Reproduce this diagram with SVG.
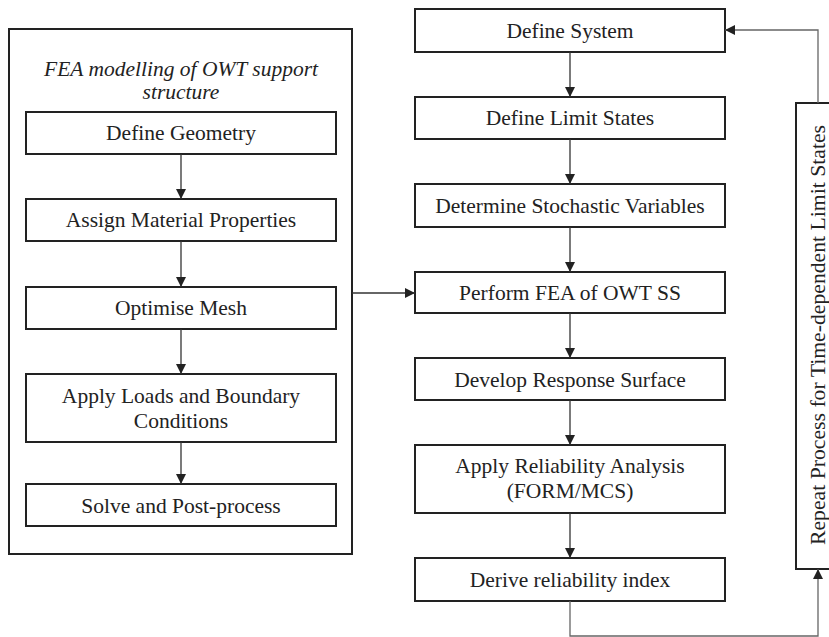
<svg xmlns="http://www.w3.org/2000/svg" width="829" height="637" viewBox="0 0 829 637">
<style>
.box{fill:#fff;stroke:#222;stroke-width:2}
.t{font-family:"Liberation Serif","Times New Roman",serif;font-size:21.5px;fill:#222;text-anchor:middle}
.it{font-style:italic}
.c{fill:none;stroke:#333;stroke-width:1.3}
.fb{fill:none;stroke:#666;stroke-width:1.3}
</style>
<defs>
<marker id="ah" viewBox="0 0 10 10" refX="10" refY="5" markerWidth="10" markerHeight="10" markerUnits="userSpaceOnUse" orient="auto">
<path d="M0,0 L10,5 L0,10 Z" fill="#222"/>
</marker>
</defs>
<rect width="829" height="637" fill="#fff"/>
<g id="fea-group">
<rect class="box" x="9" y="29" width="343" height="525"/>
<text class="t it" x="181" y="76">FEA modelling of OWT support</text>
<text class="t it" x="181" y="99">structure</text>
</g>
<g id="define-geometry"><rect class="box" x="26" y="112" width="310" height="42"/><text class="t" x="181" y="140">Define Geometry</text></g>
<g id="assign-material"><rect class="box" x="26" y="199" width="310" height="42"/><text class="t" x="181" y="227">Assign Material Properties</text></g>
<g id="optimise-mesh"><rect class="box" x="26" y="287" width="310" height="42"/><text class="t" x="181" y="315">Optimise Mesh</text></g>
<g id="apply-loads"><rect class="box" x="26" y="374" width="310" height="68"/><text class="t" x="181" y="403">Apply Loads and Boundary</text><text class="t" x="181" y="428">Conditions</text></g>
<g id="solve"><rect class="box" x="26" y="484" width="310" height="42"/><text class="t" x="181" y="513">Solve and Post-process</text></g>

<g id="define-system"><rect class="box" x="415" y="9" width="310" height="43"/><text class="t" x="570" y="37.5">Define System</text></g>
<g id="define-limit"><rect class="box" x="415" y="97" width="310" height="42"/><text class="t" x="570" y="125">Define Limit States</text></g>
<g id="stochastic"><rect class="box" x="415" y="184" width="310" height="43"/><text class="t" x="570" y="213">Determine Stochastic Variables</text></g>
<g id="perform-fea"><rect class="box" x="415" y="272" width="310" height="41"/><text class="t" x="570" y="300">Perform FEA of OWT SS</text></g>
<g id="response-surface"><rect class="box" x="415" y="358" width="310" height="42"/><text class="t" x="570" y="387">Develop Response Surface</text></g>
<g id="reliability-analysis"><rect class="box" x="415" y="445" width="310" height="68"/><text class="t" x="570" y="473">Apply Reliability Analysis</text><text class="t" x="570" y="498">(FORM/MCS)</text></g>
<g id="reliability-index"><rect class="box" x="415" y="558" width="310" height="43"/><text class="t" x="570" y="587">Derive reliability index</text></g>
<g id="repeat"><rect class="box" x="796" y="103" width="44" height="466"/><text class="t" transform="translate(825,335) rotate(-90)" textLength="420" lengthAdjust="spacingAndGlyphs">Repeat Process for Time-dependent Limit States</text></g>

<g id="connectors">
<line class="c" x1="181" y1="154" x2="181" y2="199" marker-end="url(#ah)"/>
<line class="c" x1="181" y1="241" x2="181" y2="287" marker-end="url(#ah)"/>
<line class="c" x1="181" y1="329" x2="181" y2="374" marker-end="url(#ah)"/>
<line class="c" x1="181" y1="442" x2="181" y2="484" marker-end="url(#ah)"/>
<line class="c" x1="352" y1="293" x2="415" y2="293" marker-end="url(#ah)"/>
<line class="c" x1="570" y1="52" x2="570" y2="97" marker-end="url(#ah)"/>
<line class="c" x1="570" y1="139" x2="570" y2="184" marker-end="url(#ah)"/>
<line class="c" x1="570" y1="227" x2="570" y2="272" marker-end="url(#ah)"/>
<line class="c" x1="570" y1="313" x2="570" y2="358" marker-end="url(#ah)"/>
<line class="c" x1="570" y1="400" x2="570" y2="445" marker-end="url(#ah)"/>
<line class="c" x1="570" y1="513" x2="570" y2="558" marker-end="url(#ah)"/>
<polyline class="fb" points="570,601 570,636 818,636 818,569" marker-end="url(#ah)"/>
<polyline class="fb" points="818,103 818,30 725,30" marker-end="url(#ah)"/>
</g>
</svg>
